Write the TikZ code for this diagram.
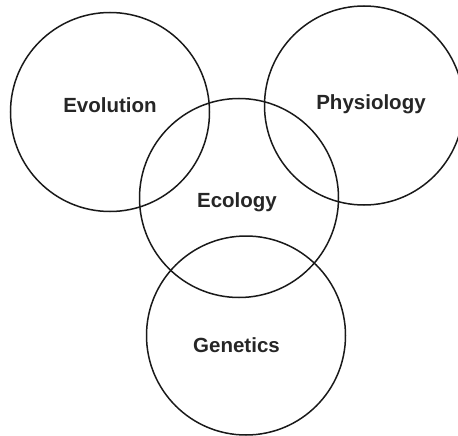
\documentclass[tikz,border=0pt]{standalone}
\usepackage{fontspec}
\setmainfont{Liberation Sans}
\usepackage{tikz}
\usetikzlibrary{positioning}

\begin{document}
\begin{tikzpicture}[
  x=1pt, y=-1pt,
  field/.style={draw=black!90, line width=1.5pt, circle, inner sep=0pt, minimum size=199pt},
  ftext/.style={anchor=base, inner sep=0pt, font=\fontsize{20.5}{24}\selectfont\bfseries, text=black!85}
]
  \useasboundingbox (0, 0) rectangle (458, 436);
  % the four fields
  \node[field] (evo) at (110, 112) {};
  \node[field] (phys) at (364, 105.5) {};
  \node[field] (eco) at (239, 198) {};
  \node[field] (gen) at (246, 335.5) {};
  % their names
  \node[ftext] (evolab) at (110, 112) {Evolution};
  \node[ftext] (physlab) at (371, 110) {Physiology};
  \node[ftext] (ecolab) at (237, 207) {Ecology};
  \node[ftext] (genlab) at (236.5, 352) {Genetics};
\end{tikzpicture}
\end{document}
